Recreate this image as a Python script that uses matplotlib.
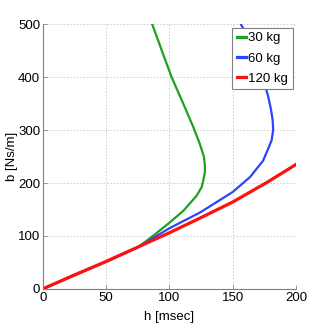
#!/usr/bin/env python3
"""
Damping coefficient b vs. contact time h for three masses.
"""

import matplotlib
matplotlib.use("Agg")
import matplotlib.pyplot as plt


# ============================================================
# DATA
# ============================================================

# 30 kg
b_30 = [0, 25.3, 51.3, 78.5, 100, 125, 147.5, 176, 192, 204, 220, 233, 249, 274, 306, 350, 400, 450, 500]
h_30 = [0, 24.5, 50, 75, 87, 100, 111, 121.5, 125.4, 126.7, 128, 128, 127.3, 124, 118.8, 110.9, 101.7, 94, 86.4]

# 60 kg
b_60 = [0, 25.3, 51.3, 78.5, 114.6, 144, 183, 211, 242, 265, 281, 300, 319, 340, 363, 390, 420, 445, 470, 500]
h_60 = [0, 24.5, 50, 75, 100, 124, 150, 163.6, 174, 178.1, 180.8, 182, 181.6, 180.2, 178.1, 175, 171.5, 167.5, 163.6, 156.5]

# 120 kg
b_120 = [0, 25.3, 51.3, 77.8, 106, 133.5, 164, 201, 235]
h_120 = [0, 24, 49.5, 74, 100, 124, 150, 177, 200]

labels = ["30 kg", "60 kg", "120 kg"]
x_ticks = [0, 50, 100, 150, 200]
y_ticks = [0, 100, 200, 300, 400, 500]


# ============================================================
# PLOT
# ============================================================

plt.rcParams["font.family"] = ["Liberation Sans Narrow", "Liberation Sans", "DejaVu Sans"]

fig = plt.figure(figsize=(3.27, 3.27), dpi=100)
ax = fig.add_axes([0.1315, 0.1168, 0.7735, 0.8089])

ax.plot(h_30, b_30, color="#1fa01f", linewidth=1.6, label=labels[0])
ax.plot(h_60, b_60, color="#2b44ff", linewidth=1.6, label=labels[1])
ax.plot(h_120, b_120, color="#ff1010", linewidth=2.3, label=labels[2])

ax.set_xlim(0, 200)
ax.set_ylim(0, 500)
ax.set_xticks(x_ticks)
ax.set_yticks(y_ticks)

ax.grid(True, color="#c8c8c8", linestyle=(0, (2, 2)), linewidth=0.6)
for side in ["top", "right"]:
    ax.spines[side].set_visible(False)
for side in ["left", "bottom"]:
    ax.spines[side].set_color("#808080")
    ax.spines[side].set_linewidth(0.8)

ax.tick_params(direction="in", length=3, width=0.6, color="#808080",
               labelsize=9.5, pad=2)

ax.set_xlabel("h [msec]", fontsize=9.5)
ax.set_ylabel("b [Ns/m]", fontsize=9.5)
ax.xaxis.set_label_coords(0.5, -0.085)
ax.yaxis.set_label_coords(-0.1, 0.5)

leg = ax.legend(loc="upper right", fontsize=9.5, handlelength=0.7,
                handletextpad=0.15, borderpad=0.35, labelspacing=0.6,
                fancybox=False, framealpha=1, borderaxespad=0.25)
leg.get_frame().set_edgecolor("#808080")
leg.get_frame().set_linewidth(0.8)
for line in leg.get_lines():
    line.set_linewidth(2.3)

fig.savefig("out.png", dpi=100)
